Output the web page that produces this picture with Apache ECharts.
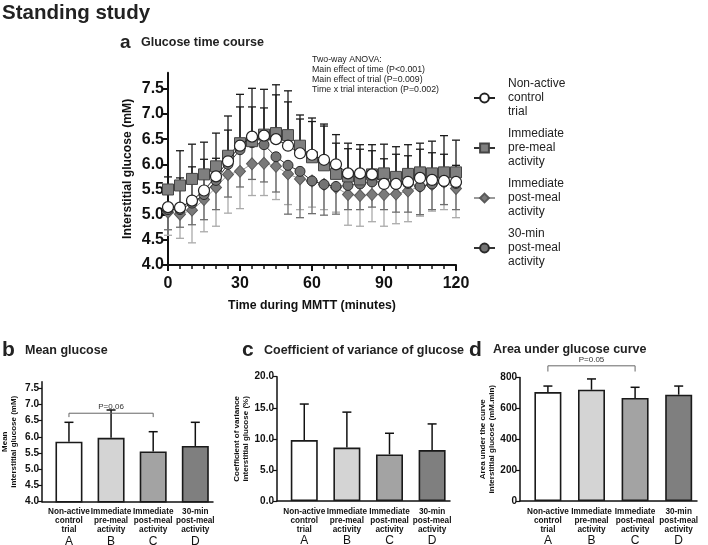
<!DOCTYPE html>
<html><head><meta charset="utf-8">
<script src="https://cdn.jsdelivr.net/npm/echarts@6/dist/echarts.min.js"></script>
<style>html,body{margin:0;padding:0;background:#fff}#c{width:708px;height:545px}</style>
</head><body><div id="c"></div>
<script>
const FONT = "'Liberation Sans', Arial, sans-serif";

// ---- Panel a: glucose time course ----
const times = [0,5,10,15,20,25,30,35,40,45,50,55,60,65,70,75,80,85,90,95,100,105,110,115,120];
const controlTrial     = [5.15,5.14,5.28,5.48,5.76,6.06,6.37,6.55,6.57,6.50,6.37,6.22,6.19,6.09,6.00,5.82,5.82,5.80,5.61,5.61,5.65,5.73,5.69,5.67,5.65];
const preMealActivity  = [5.50,5.58,5.71,5.80,5.96,6.17,6.42,6.46,6.59,6.62,6.58,6.37,6.14,5.98,5.81,5.76,5.70,5.80,5.82,5.75,5.81,5.84,5.82,5.84,5.84];
const postMealActivity = [5.05,5.01,5.09,5.30,5.54,5.80,5.86,6.01,6.02,5.96,5.81,5.71,5.67,5.60,5.54,5.40,5.38,5.40,5.40,5.41,5.47,5.56,5.60,5.65,5.52];
const post30Activity   = [5.10,5.10,5.23,5.40,5.68,6.00,6.29,6.43,6.39,6.15,5.98,5.86,5.67,5.60,5.56,5.58,5.61,5.65,5.65,5.60,5.62,5.56,5.61,5.65,5.62];
// error bar ends (mean + SD above, mean - SD below)
const preMealUpper   = [5.75,6.27,6.40,6.44,6.62,6.96,7.39,7.51,7.49,7.58,7.46,6.98,6.92,6.80,6.59,6.42,6.39,6.39,6.40,6.35,6.39,6.42,6.46,6.57,6.48];
const controlUpper   = [5.55,5.73,5.95,6.10,6.12,6.68,7.14,7.14,7.12,7.38,7.24,6.90,6.85,6.76,6.42,6.31,6.30,6.27,6.11,6.20,6.17,6.30,6.23,6.20,5.98];
const postMealLower  = [4.59,4.53,4.44,4.66,4.77,5.03,5.12,5.38,5.38,5.30,5.20,5.10,5.15,5.10,5.05,4.79,4.77,4.86,4.77,4.82,4.86,4.97,5.07,5.10,4.94];
const post30Lower    = [4.70,4.75,4.80,4.90,5.10,5.35,5.55,5.70,5.65,5.45,5.01,4.94,5.02,4.99,5.01,5.10,5.10,5.15,5.10,5.05,5.05,5.00,5.10,5.20,5.10];
const seriesNames = ['Non-active\ncontrol\ntrial','Immediate\npre-meal\nactivity','Immediate\npost-meal\nactivity','30-min\npost-meal\nactivity'];
const yTicksMain = [4.0,4.5,5.0,5.5,6.0,6.5,7.0,7.5];
const annotationLines = ['Two-way ANOVA:','Main effect of time (P<0.001)','Main effect of trial (P=0.009)','Time x trial interaction (P=0.002)'];

// ---- Panels b, c, d ----
const barCategories = ['Non-active\ncontrol\ntrial','Immediate\npre-meal\nactivity','Immediate\npost-meal\nactivity','30-min\npost-meal\nactivity'];
const barLetters = ['A','B','C','D'];
const barColors = ['#ffffff','#d4d4d4','#a3a3a3','#7f7f7f'];
const meanGlucose    = [5.85,5.97,5.55,5.72];
const meanGlucoseTop = [6.45,6.83,6.16,6.45];
const meanTicks = [4.0,4.5,5.0,5.5,6.0,6.5,7.0,7.5];
const meanBracket = [[0,2,6.73,6.61]];
const meanBracketText = ['P=0.06'];
const cvGlucose    = [9.8,8.6,7.5,8.2];
const cvGlucoseTop = [15.6,14.3,10.9,12.4];
const aucGlucose    = [705,720,667,688];
const aucGlucoseTop = [744,790,736,744];
const aucBracket = [[0,2,875,838]];
const aucBracketText = ['P=0.05'];

function errRender(color, capW, lw) {
  return function (params, api) {
    const x = api.value(0), y0 = api.value(1), y1 = api.value(2);
    const p0 = api.coord([x, y0]), p1 = api.coord([x, y1]);
    return {type:'group', children:[
      {type:'line', shape:{x1:p0[0],y1:p0[1],x2:p1[0],y2:p1[1]}, style:{stroke:color,lineWidth:lw}},
      {type:'line', shape:{x1:p1[0]-capW/2,y1:p1[1],x2:p1[0]+capW/2,y2:p1[1]}, style:{stroke:color,lineWidth:lw}}
    ]};
  };
}
function bracketRender(texts) {
  return function (params, api) {
    const x0 = api.value(0), x1 = api.value(1), y = api.value(2), yt = api.value(3);
    const a = api.coord([x0, y]), b = api.coord([x1, y]);
    const a2 = api.coord([x0, yt]), b2 = api.coord([x1, yt]);
    return {type:'group', children:[
      {type:'polyline', shape:{points:[a2,a,b,b2]}, style:{stroke:'#666',fill:null,lineWidth:1}},
      {type:'text', x:(a[0]+b[0])/2, y:a[1]-2, style:{text:texts[params.dataIndex], align:'center', verticalAlign:'bottom', fontSize:8, fontFamily:FONT, fill:'#333'}}
    ]};
  };
}
const zip3 = (xs, a, b) => xs.map((x,i)=>[x,a[i],b[i]]);
const idx = [0,1,2,3];

function barXAxis(grid) {
  return {type:'value', gridIndex:grid, min:-0.64, max:3.42,
    axisLine:{show:true,onZero:false,lineStyle:{color:'#111',width:1.5}}, axisTick:{show:false}, splitLine:{show:false},
    axisLabel:{customValues:idx, margin:6, hideOverlap:false, showMinLabel:true, showMaxLabel:true, formatter:(v)=>{const i=Math.round(v);
      return barCategories[i].split('\n').map(s=>'{t|'+s+'}').join('\n')+'\n{l|'+barLetters[i]+'}';},
      rich:{t:{fontSize:8.2,fontWeight:'bold',lineHeight:9,fontFamily:FONT,color:'#111'}, l:{fontSize:12,lineHeight:14,fontFamily:FONT,color:'#111'}}}};
}
function barYAxis(grid, opts) {
  return Object.assign({type:'value', gridIndex:grid, nameLocation:'middle',
    nameTextStyle:{fontSize:8,fontWeight:'bold',fontFamily:FONT,color:'#111',lineHeight:9},
    axisLine:{show:true,onZero:false,lineStyle:{color:'#111',width:1.5}},
    axisTick:{show:true,length:4,lineStyle:{color:'#111',width:1.2}},
    splitLine:{show:false},
    axisLabel:{fontSize:10,fontWeight:'bold',fontFamily:FONT,color:'#111',margin:3}}, opts);
}
function barSeries(xi, vals) {
  return {type:'bar', xAxisIndex:xi, yAxisIndex:xi, barWidth:27, z:2,
    data: vals.map((v,i)=>({value:[i,v], itemStyle:{color:barColors[i]}})),
    itemStyle:{borderColor:'#1a1a1a',borderWidth:1.6}};
}
function barErr(xi, vals, tops) {
  return {type:'custom', xAxisIndex:xi, yAxisIndex:xi, z:1, renderItem:errRender('#111',9,1.5),
    data: zip3(idx, vals, tops), encode:{x:0,y:[1,2]}};
}
function ttl(text, left, top, size, weight, extra) {
  return {text, left, top, padding:0, textStyle:Object.assign({fontSize:size,fontWeight:weight,color:'#222',fontFamily:FONT}, extra||{})};
}
function grid(left, top, width, height) {
  return {left, top, width, height, containLabel:false, outerBoundsMode:'none'};
}

const chart = echarts.init(document.getElementById('c'), null, {renderer:'canvas'});
const option = {
  backgroundColor:'#fff',
  animation:false,
  textStyle:{fontFamily:FONT},
  title:[
    ttl('Standing study', 2, 3, 20.5, 'bold'),
    ttl('a', 120, 33, 19, 'bold'),
    ttl('Glucose time course', 141, 36, 12.5, 'bold'),
    ttl(annotationLines.join('\n'), 312, 54, 8.8, 'normal', {lineHeight:10.3}),
    ttl('b', 2, 340, 21, 'bold'),
    ttl('Mean glucose', 25, 344, 12.5, 'bold'),
    ttl('c', 242, 340, 21, 'bold'),
    ttl('Coefficient of variance of glucose', 264, 344, 12.5, 'bold'),
    ttl('d', 469, 340, 21, 'bold'),
    ttl('Area under glucose curve', 493, 343, 12.5, 'bold')
  ],
  legend:{data:seriesNames, orient:'vertical', left:468, top:72, itemGap:8, itemWidth:21, itemHeight:11,
    textStyle:{fontSize:12,lineHeight:14,color:'#222',fontFamily:FONT,padding:[0,0,0,8]}},
  grid:[
    grid(168, 72.7, 288, 192.3),
    grid(42, 381.8, 171, 119.9),
    grid(277, 376.7, 173, 124.3),
    grid(520, 377.4, 177, 123.6)
  ],
  xAxis:[
    {type:'value', gridIndex:0, min:0, max:120, interval:30,
     name:'Time during MMTT (minutes)', nameLocation:'middle', nameGap:35,
     nameTextStyle:{fontSize:12.3,fontWeight:'bold',color:'#111',fontFamily:FONT},
     axisLine:{onZero:false,lineStyle:{color:'#111',width:2}},
     axisTick:{show:true,length:6,lineStyle:{color:'#111',width:2}},
     minorTick:{show:true,splitNumber:6,length:4,lineStyle:{color:'#111',width:1.5}},
     splitLine:{show:false}, minorSplitLine:{show:false},
     axisLabel:{fontSize:16,fontWeight:'bold',color:'#111',fontFamily:FONT,margin:11}},
    barXAxis(1), barXAxis(2), barXAxis(3)
  ],
  yAxis:[
    {type:'value', gridIndex:0, min:4, max:7.82,
     name:'Interstitial glucose (mM)', nameLocation:'middle', nameGap:34,
     nameTextStyle:{fontSize:12.2,fontWeight:'bold',color:'#111',fontFamily:FONT},
     axisLine:{show:true,onZero:false,lineStyle:{color:'#111',width:2}},
     axisTick:{show:true,length:6,customValues:yTicksMain,lineStyle:{color:'#111',width:2}},
     splitLine:{show:false},
     axisLabel:{customValues:yTicksMain,formatter:v=>v.toFixed(1),fontSize:16,fontWeight:'bold',color:'#111',fontFamily:FONT,margin:4}},
    barYAxis(1,{min:4,max:7.7,name:'Mean\ninterstitial glucose (mM)',nameGap:24,
      axisTick:{show:true,length:4,customValues:meanTicks,lineStyle:{color:'#111',width:1.2}},
      axisLabel:{customValues:meanTicks,formatter:v=>v.toFixed(1),fontSize:10,fontWeight:'bold',fontFamily:FONT,color:'#111',margin:3}}),
    barYAxis(2,{min:0,max:20,interval:5,name:'Coefficient of variance\ninterstitial glucose (%)',nameGap:26,
      axisLabel:{formatter:v=>v.toFixed(1),fontSize:10,fontWeight:'bold',fontFamily:FONT,color:'#111',margin:3}}),
    barYAxis(3,{min:0,max:800,interval:200,name:'Area under the curve\ninterstitial glucose (mM.min)',nameGap:24})
  ],
  series:[
    {type:'custom', xAxisIndex:0, yAxisIndex:0, z:1, renderItem:errRender('#aaaaaa',8,1.3), data:zip3(times, postMealActivity, postMealLower), encode:{x:0,y:[1,2]}},
    {type:'custom', xAxisIndex:0, yAxisIndex:0, z:1, renderItem:errRender('#6e6e6e',8,1.3), data:zip3(times, post30Activity, post30Lower), encode:{x:0,y:[1,2]}},
    {type:'custom', xAxisIndex:0, yAxisIndex:0, z:1, renderItem:errRender('#1a1a1a',8,1.3), data:zip3(times, preMealActivity, preMealUpper), encode:{x:0,y:[1,2]}},
    {type:'custom', xAxisIndex:0, yAxisIndex:0, z:1, renderItem:errRender('#1a1a1a',8,1.3), data:zip3(times, controlTrial, controlUpper), encode:{x:0,y:[1,2]}},
    {name:seriesNames[2], type:'line', xAxisIndex:0, yAxisIndex:0, z:3, symbol:'diamond', symbolSize:[11,12],
     data:times.map((t,i)=>[t,postMealActivity[i]]), lineStyle:{color:'#9a9a9a',width:1},
     itemStyle:{color:'#7a7a7a',borderColor:'#5a5a5a',borderWidth:1}},
    {name:seriesNames[3], type:'line', xAxisIndex:0, yAxisIndex:0, z:4, symbol:'circle', symbolSize:10,
     data:times.map((t,i)=>[t,post30Activity[i]]), lineStyle:{color:'#333',width:1},
     itemStyle:{color:'#747474',borderColor:'#2a2a2a',borderWidth:1}},
    {name:seriesNames[1], type:'line', xAxisIndex:0, yAxisIndex:0, z:5, symbol:'rect', symbolSize:11,
     data:times.map((t,i)=>[t,preMealActivity[i]]), lineStyle:{color:'#333',width:1},
     itemStyle:{color:'#7f7f7f',borderColor:'#444',borderWidth:1}},
    {name:seriesNames[0], type:'line', xAxisIndex:0, yAxisIndex:0, z:6, symbol:'circle', symbolSize:11,
     data:times.map((t,i)=>[t,controlTrial[i]]), lineStyle:{color:'#222',width:1},
     itemStyle:{color:'#ffffff',borderColor:'#222',borderWidth:1.2}},
    barErr(1, meanGlucose, meanGlucoseTop), barSeries(1, meanGlucose),
    {type:'custom', xAxisIndex:1, yAxisIndex:1, clip:false, renderItem:bracketRender(meanBracketText), data:meanBracket, encode:{x:[0,1],y:[2,3]}},
    barErr(2, cvGlucose, cvGlucoseTop), barSeries(2, cvGlucose),
    barErr(3, aucGlucose, aucGlucoseTop), barSeries(3, aucGlucose),
    {type:'custom', xAxisIndex:3, yAxisIndex:3, clip:false, renderItem:bracketRender(aucBracketText), data:aucBracket, encode:{x:[0,1],y:[2,3]}}
  ]
};
chart.setOption(option);
</script></body></html>
